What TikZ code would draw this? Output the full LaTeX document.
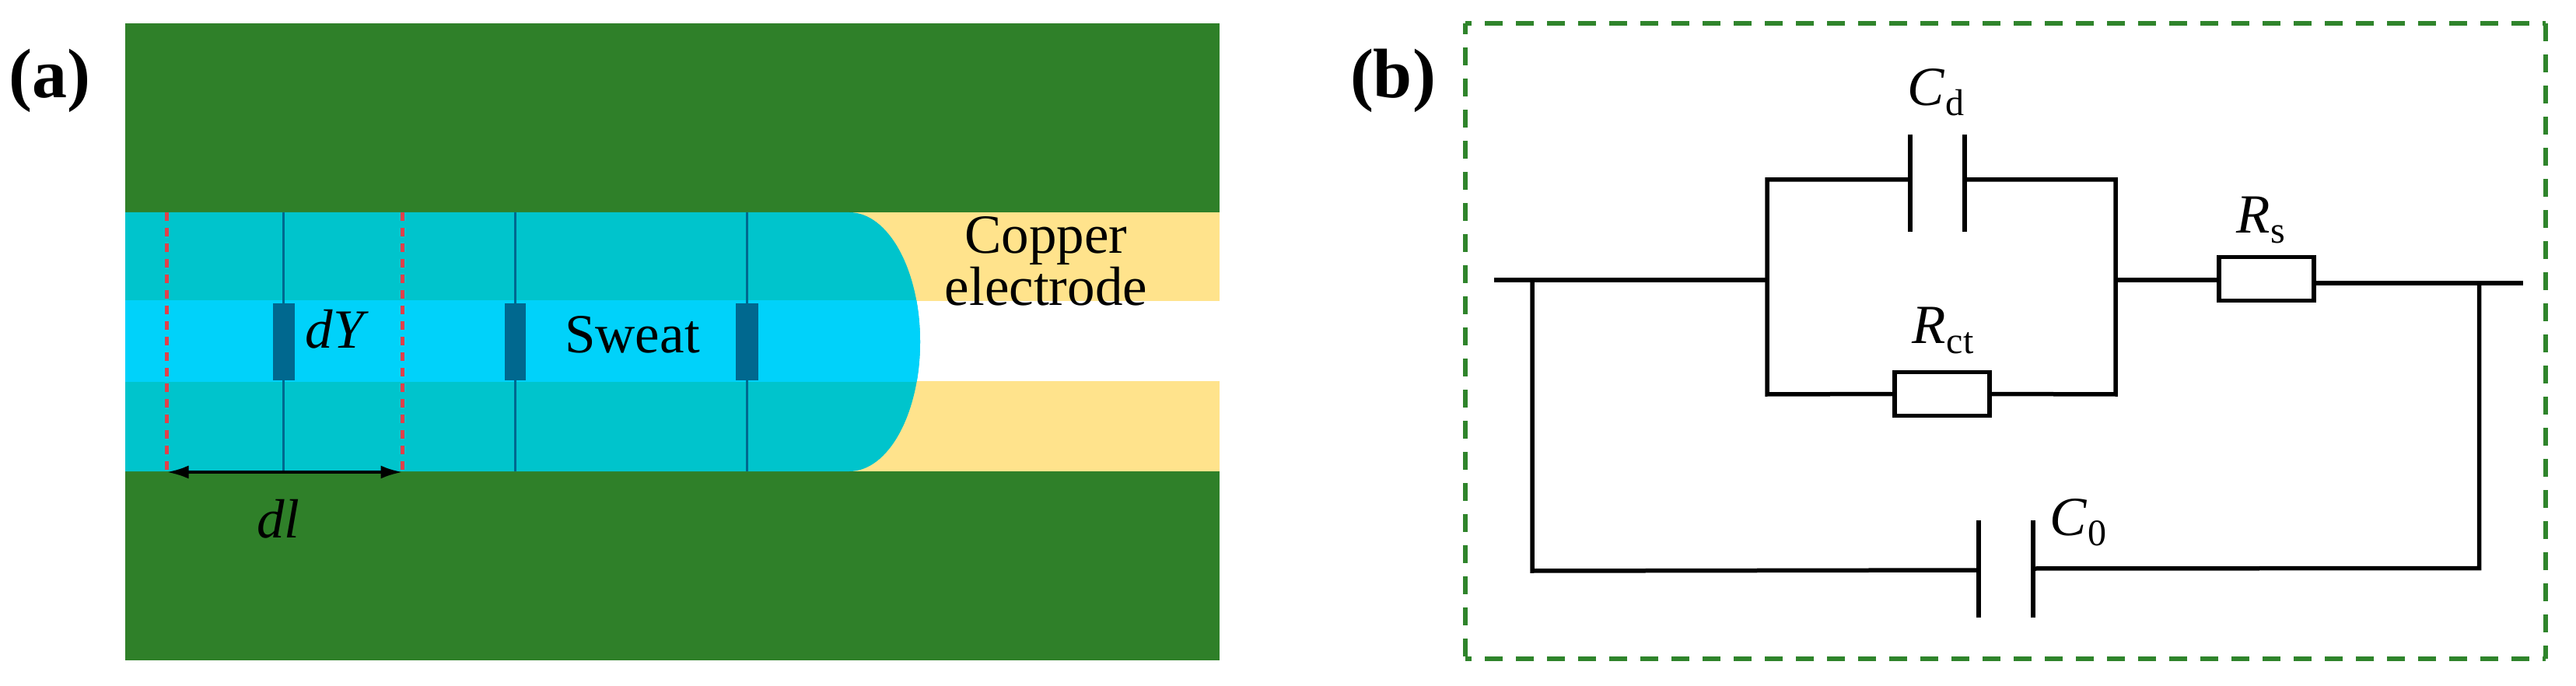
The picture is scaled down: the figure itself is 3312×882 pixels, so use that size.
\documentclass[tikz,border=0pt]{standalone}
\usepackage{fontspec}
\setmainfont{Liberation Serif}
\usetikzlibrary{arrows.meta}
\newcommand{\figtext}{\fontsize{71}{67}\selectfont}
\newcommand{\sublabel}[2]{{\itshape #1}\kern1pt{\fontsize{48}{48}\selectfont\raisebox{-13pt}{#2}}}
\definecolor{boardgreen}{HTML}{2F8029}
\definecolor{framegreen}{HTML}{2F842B}
\definecolor{copper}{HTML}{FFE38C}
\definecolor{sweatteal}{HTML}{00C4CC}
\definecolor{sweatcyan}{HTML}{00D2FA}
\definecolor{elemblue}{HTML}{00688F}
\definecolor{cutred}{HTML}{E0404A}
\tikzset{
  board/.style={fill=boardgreen},
  elembar/.style={fill=elemblue},
  elemline/.style={draw=elemblue,line width=3pt},
  cutline/.style={draw=cutred,line width=4.5pt,dash pattern=on 11pt off 9pt},
  wire/.style={draw=black,line width=5.5pt},
  plate/.style={draw=black,line width=6pt},
  resistor/.style={draw=black,line width=5.5pt,fill=white,rectangle,minimum width=122pt,minimum height=56pt,inner sep=0pt},
  lbl/.style={inner sep=0pt,font=\figtext,align=center},
  panel/.style={inner sep=0pt,font=\fontsize{90}{90}\selectfont\bfseries},
  framedash/.style={draw=framegreen,line width=6pt},
  dim/.style={draw=black,line width=4pt,{Latex[length=28pt,width=17pt]}-{Latex[length=28pt,width=17pt]}}
}
\begin{document}
\begin{tikzpicture}[x=1pt,y=-1pt]
\useasboundingbox (0,0) rectangle (3312,882);
% panel a
\fill[board] (161,30) rectangle (1568,273);
\fill[board] (161,606) rectangle (1568,849);
\fill[copper] (1000,273) rectangle (1568,387);
\fill[copper] (1000,490) rectangle (1568,606);
\fill[sweatteal] (161,273) -- (1092,273) .. controls (1142,273) and (1183,347) .. (1183,439.5) .. controls (1183,532) and (1142,606) .. (1092,606) -- (161,606) -- cycle;
\begin{scope}
\clip (161,387) rectangle (1568,490);
\fill[sweatcyan] (161,273) -- (1092,273) .. controls (1142,273) and (1183,347) .. (1183,439.5) .. controls (1183,532) and (1142,606) .. (1092,606) -- (161,606) -- cycle;
\end{scope}
\coordinate (t1) at (364.5,273); \coordinate (b1) at (364.5,606);
\coordinate (t2) at (662,273); \coordinate (b2) at (662,606);
\coordinate (t3) at (960,273); \coordinate (b3) at (960,606);
\draw[elemline] (t1) -- (b1);
\draw[elemline] (t2) -- (b2);
\draw[elemline] (t3) -- (b3);
\fill[elembar] (351,390) rectangle (379,489);
\fill[elembar] (649,390) rectangle (676,489);
\fill[elembar] (946,390) rectangle (975,489);
\coordinate (cutAt) at (214.5,273); \coordinate (cutAb) at (214.5,607);
\coordinate (cutBt) at (517.5,273); \coordinate (cutBb) at (517.5,607);
\draw[cutline] (cutAt) -- (cutAb);
\draw[cutline] (cutBt) -- (cutBb);
\draw[dim] (cutAb) -- (cutBb);
\node[lbl] (dY) at (430,423) {\itshape dY};
\node[lbl] (dl) at (358,667) {\itshape dl};
\node[lbl] (sweat) at (813,430) {Sweat};
\node[lbl] (copperlbl) at (1345,336) {Copper\\electrode};
\node[panel] (a) at (64,104) {(a)};
\node[panel] (b) at (1791,104) {(b)};
% panel b frame
\coordinate (fTL) at (1884,30);
\coordinate (fTR) at (3273,30);
\coordinate (fBL) at (1884,847);
\coordinate (fBR) at (3273,847);
\draw[framedash,dash pattern=on 23pt off 17pt,dash phase=14.7pt] (fTL) -- (fTR);
\draw[framedash,dash pattern=on 23pt off 17pt,dash phase=9pt] (fTL) -- (fBL);
\draw[framedash,dash pattern=on 23pt off 17pt,dash phase=19pt] (fBR) -- (fBL);
\draw[framedash,dash pattern=on 23pt off 17pt,dash phase=6pt] (fBR) -- (fTR);
% circuit
\node[resistor] (Rct) at (2497,506.5) {};
\node[resistor] (Rs) at (2914,358.7) {};
\coordinate (inL) at (1921,360);
\coordinate (tapL) at (1970,360);
\coordinate (railLm) at (2272,360);
\coordinate (railLt) at (2272,231);
\coordinate (railLb) at (2272,507);
\coordinate (railRm) at (2720,360);
\coordinate (railRt) at (2720,231);
\coordinate (railRb) at (2720,507);
\coordinate (cdA) at (2455.5,231); \coordinate (cdB) at (2525.5,231);
\coordinate (cdAt) at (2455.5,173); \coordinate (cdAb) at (2455.5,298);
\coordinate (cdBt) at (2525.5,173); \coordinate (cdBb) at (2525.5,298);
\coordinate (outR) at (3244,364);
\coordinate (tapR) at (3187.5,364);
\coordinate (c0A) at (2544,733); \coordinate (c0B) at (2614,731);
\coordinate (c0At) at (2544,669); \coordinate (c0Ab) at (2544,794);
\coordinate (c0Bt) at (2614,669); \coordinate (c0Bb) at (2614,794);
\coordinate (cnrL) at (1970,734);
\coordinate (cnrR) at (3187.5,730.5);
\draw[wire] (inL) -- (railLm);
\draw[wire,line join=miter] (cdA) -- (railLt) -- (railLb) -- (Rct.west);
\draw[wire,line join=miter] (cdB) -- (railRt) -- (railRb) -- (Rct.east);
\draw[wire] (railRm) -- (railRm -| Rs.west);
\draw[wire] (Rs.east |- outR) -- (outR);
\draw[wire,line join=miter] (tapL) -- (cnrL) -- (c0A);
\draw[wire,line join=miter] (tapR) -- (cnrR) -- (c0B);
\draw[plate] (cdAt) -- (cdAb);
\draw[plate] (cdBt) -- (cdBb);
\draw[plate] (c0At) -- (c0Ab);
\draw[plate] (c0Bt) -- (c0Bb);
\node[lbl] (Cd) at (2489,119) {\sublabel{C}{d}};
\node[lbl] (Rslbl) at (2907,283) {\sublabel{R}{s}};
\node[lbl] (Rctlbl) at (2498,425) {\sublabel{R}{ct}};
\node[lbl] (C0) at (2672,672) {\sublabel{C}{0}};
\end{tikzpicture}
\end{document}
